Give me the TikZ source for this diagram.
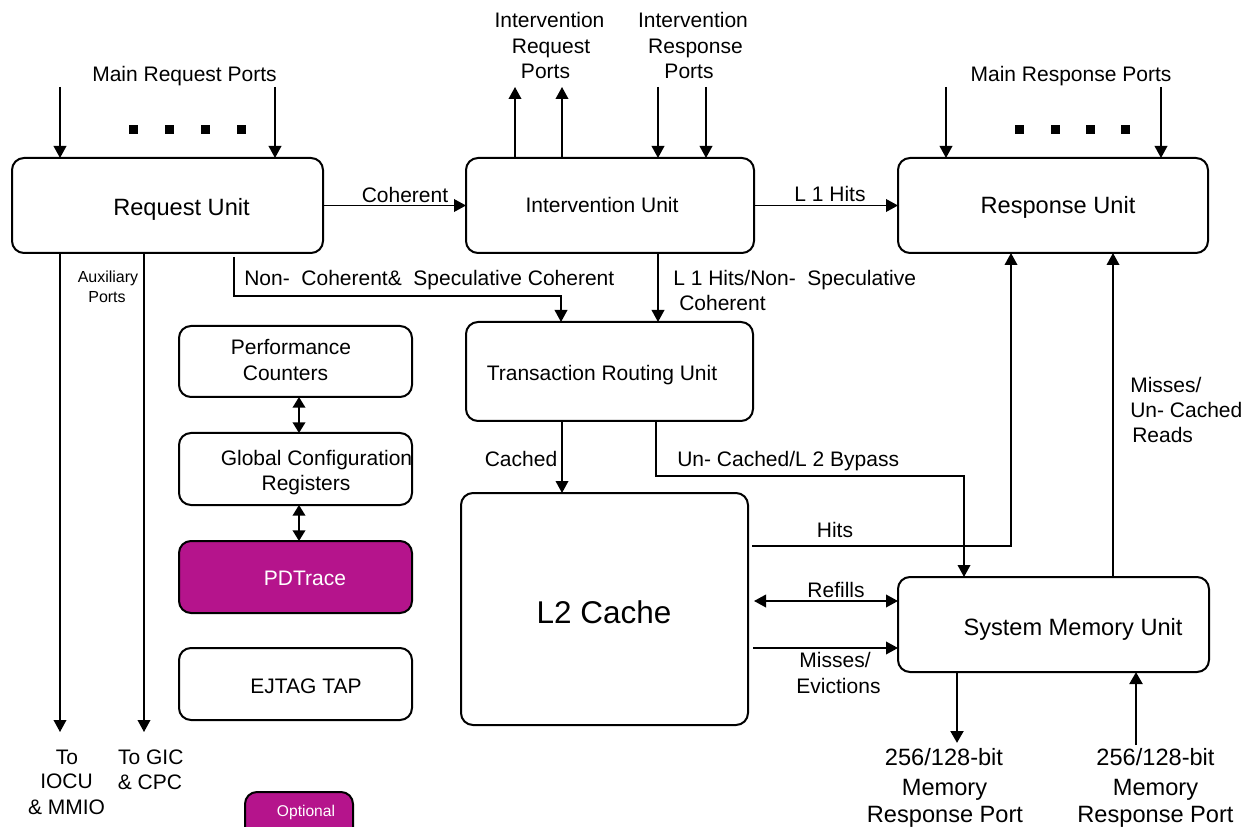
\documentclass[tikz,border=0pt]{standalone}
\usepackage{fontspec}
\setmainfont{Liberation Sans}
\usetikzlibrary{arrows.meta,fit}
\definecolor{mag}{RGB}{181,20,140}
\newcommand\fntA{\fontsize{15.75}{18}\selectfont}
\newcommand\fntB{\fontsize{17.7}{20}\selectfont}
\newcommand\fntC{\fontsize{23.6}{27}\selectfont}
\newcommand\fntS{\fontsize{12}{14}\selectfont}
\begin{document}
\begin{tikzpicture}[x=0.75pt,y=-0.75pt,
  box/.style={draw, line width=1.5pt, rounded corners=9pt, inner sep=0pt, outer sep=0pt},
  conn/.style={line width=1.1pt, -{Triangle[length=9pt,width=9.5pt]}},
  dconn/.style={line width=1.1pt, {Triangle[length=9pt,width=9.5pt]}-{Triangle[length=9pt,width=9.5pt]}},
  sdconn/.style={line width=1.1pt, {Triangle[length=8pt,width=9.5pt]}-{Triangle[length=8pt,width=9.5pt]}},
  tconn/.style={line width=2.2pt, -{Triangle[length=9pt,width=9.5pt]}},
  t/.style={anchor=base, inner sep=0pt, font=\fntA},
  tl/.style={t, anchor=base west},
  tb/.style={t, font=\fntB},
  ts/.style={t, font=\fntS}
]
\useasboundingbox (0,0) rectangle (1247,827);

% boxes
\node[box, fit={(12,158)(323,253)}] (req) {};
\node[box, fit={(466,158)(754,253)}] (intv) {};
\node[box, fit={(898,158)(1208,253)}] (resp) {};
\node[box, fit={(466,322)(753,421)}] (tru) {};
\node[box, fit={(461,493)(748,725)}] (l2) {};
\node[box, fit={(898,577)(1209,672)}] (smu) {};
\node[box, fit={(179,326)(412,397)}] (perf) {};
\node[box, fit={(179,433)(412,505)}] (gcr) {};
\node[box, fill=mag, fit={(179,541)(412,613)}] (pdt) {};
\node[box, fit={(179,648)(412,720)}] (ejt) {};
\begin{scope}
\clip (0,0) rectangle (1247,827);
\node[box, fill=mag, fit={(245,792)(353,850)}] (opt) {};
\end{scope}

% dots
\foreach \xx in {133,169,205,241,1019,1055,1090,1125}
  \fill (\xx,130) +(-4.5,-4.5) rectangle +(4.5,4.5);

% coordinates
\coordinate (mq1) at (60,87);
\coordinate (mq2) at (275,87);
\coordinate (ms1) at (946,87);
\coordinate (ms2) at (1161,87);
\coordinate (iq1) at (515,87);
\coordinate (iq2) at (562,87);
\coordinate (ir1) at (658,87);
\coordinate (ir2) at (706,87);
\coordinate (ax1) at (60,732);
\coordinate (ax2) at (144,732);
\coordinate (nc0) at (234,257);
\coordinate (nc1) at (561,296);
\coordinate (lx) at (658,0);
\coordinate (cx) at (562,0);
\coordinate (bp0) at (656,476);
\coordinate (bp1) at (964,476);
\coordinate (h0) at (752,546);
\coordinate (h1) at (1011,546);
\coordinate (rf) at (754,601);
\coordinate (me) at (753,648);
\coordinate (mu) at (1113,0);
\coordinate (b1) at (957,743);
\coordinate (b2) at (1136,745);
\coordinate (dx) at (299,0);

% connectors
\draw[conn] (mq1) -- (mq1 |- req.north);
\draw[conn] (mq2) -- (mq2 |- req.north);
\draw[conn] (ms1) -- (ms1 |- resp.north);
\draw[conn] (ms2) -- (ms2 |- resp.north);
\draw[conn] (iq1 |- intv.north) -- (iq1);
\draw[conn] (iq2 |- intv.north) -- (iq2);
\draw[conn] (ir1) -- (ir1 |- intv.north);
\draw[conn] (ir2) -- (ir2 |- intv.north);
\draw[conn] (ax1 |- req.south) -- (ax1);
\draw[conn] (ax2 |- req.south) -- (ax2);
\draw[conn] (req.east) -- (intv.west);
\draw[conn] (intv.east) -- (resp.west);
\draw[conn] (nc0) |- (nc1) -- (nc1 |- tru.north);
\draw[conn] (lx |- intv.south) -- (lx |- tru.north);
\draw[conn] (cx |- tru.south) -- (cx |- l2.north);
\draw[conn] (bp0 |- tru.south) -- (bp0) -- (bp1) -- (bp1 |- smu.north);
\draw[conn] (h0) -- (h1) -- (h1 |- resp.south);
\draw[dconn] (rf) -- (rf -| smu.west);
\draw[conn] (me) -- (me -| smu.west);
\draw[conn] (mu |- smu.north) -- (mu |- resp.south);
\draw[tconn] (b1 |- smu.south) -- (b1);
\draw[tconn] (b2) -- (b2 |- smu.south);
\draw[sdconn] (dx |- perf.south) -- (dx |- gcr.north);
\draw[sdconn] (dx |- gcr.south) -- (dx |- pdt.north);

% texts
\node[t] (tmrp) at (184.5,81.5) {Main Request Ports};
\node[t] (tmsp) at (1071,81.5) {Main Response Ports};
\node[t] (ti1) at (549.5,27.5) {Intervention};
\node[t] (ti2) at (551,53.5) {Request};
\node[t] (ti3) at (545.5,78.5) {Ports};
\node[t] (tj1) at (693,27.5) {Intervention};
\node[t] (tj2) at (695.5,53.5) {Response};
\node[t] (tj3) at (689,78.5) {Ports};
\node[t] (tcoh) at (405,202.5) {Coherent};
\node[t] (tl1h) at (830,201.5) {L 1 Hits};
\node[tb] (treq) at (181.5,215.5) {Request Unit};
\node[t] (tint) at (602,212.5) {Intervention Unit};
\node[tb] (tresp) at (1058,213.5) {Response Unit};
\node[ts] (taux1) at (108,282.7) {Auxiliary};
\node[ts] (taux2) at (107,302.7) {Ports};
\node[tl] (tnc) at (244,285.5) {Non-\ \ Coherent\&\ \ Speculative Coherent};
\node[tl] (tl1a) at (673,285.5) {L 1 Hits/Non-\ \ Speculative};
\node[tl] (tl1b) at (679,310.5) {Coherent};
\node[t] (ttru) at (602,380.5) {Transaction Routing Unit};
\node[t] (tp1) at (291,354.5) {Performance};
\node[t] (tp2) at (285.5,380.5) {Counters};
\node[t] (tg1) at (316.5,465.5) {Global Configuration};
\node[t] (tg2) at (306,490.5) {Registers};
\node[t, text=white] (tpd) at (305,585.5) {PDTrace};
\node[t] (tej) at (306,693.5) {EJTAG TAP};
\node[t] (tca) at (521,466.5) {Cached};
\node[tl] (tby) at (677,466.5) {Un-\ Cached/L 2 Bypass};
\node[tl] (tmu1) at (1130,392.5) {Misses/};
\node[tl] (tmu2) at (1130,417.5) {Un-\ Cached};
\node[tl] (tmu3) at (1132,442.5) {Reads};
\node[t] (thit) at (835,537.5) {Hits};
\node[t] (tref) at (836,597.5) {Refills};
\node[t] (tme1) at (835,667.5) {Misses/};
\node[t] (tme2) at (838.5,693.5) {Evictions};
\node[t, font=\fntC] (tl2) at (604,623.3) {L2 Cache};
\node[tb] (tsmu) at (1073,635.5) {System Memory Unit};
\node[t] (to1) at (67,764.5) {To};
\node[t] (to2) at (66.5,788.5) {IOCU};
\node[t] (to3) at (66.5,814.5) {\& MMIO};
\node[t] (tg3) at (150.8,764.5) {To GIC};
\node[t] (tg4) at (150,789.5) {\& CPC};
\node[tb] (tm1) at (944,765.5) {256/128-bit};
\node[tb] (tm2) at (944.5,795) {Memory};
\node[tb] (tm3) at (945,822.5) {Response Port};
\node[tb] (tn1) at (1155.5,765.5) {256/128-bit};
\node[tb] (tn2) at (1155.5,795) {Memory};
\node[tb] (tn3) at (1155.5,822.5) {Response Port};
\node[t, font=\fontsize{11.7}{14}\selectfont, text=white] (topt) at (306,816.5) {Optional};
\end{tikzpicture}
\end{document}
